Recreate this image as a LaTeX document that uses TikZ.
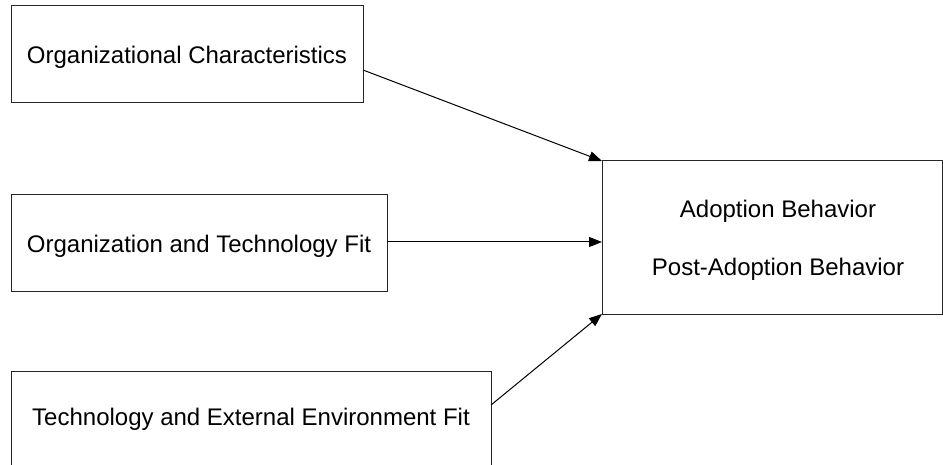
\documentclass[tikz,border=0pt]{standalone}
\usepackage{fontspec}
\setmainfont{Liberation Sans}
\usetikzlibrary{arrows.meta}
\begin{document}
\begin{tikzpicture}[x=1pt,y=-1pt,
  boxnode/.style={draw=black!85,line width=1pt,inner sep=0pt,outer sep=0pt,rectangle},
  lbl/.style={font=\fontsize{24}{28}\selectfont,anchor=base,inner sep=0pt},
  conn/.style={line width=1pt,-{Triangle[length=13pt,width=10pt]}}]
\clip (0,0) rectangle (943,465);
\fill[white] (0,0) rectangle (943,465);
\node[boxnode,minimum width=352pt,minimum height=97pt] (b1) at (187,54.5) {};
\node[boxnode,minimum width=376pt,minimum height=97pt] (b2) at (199,243.5) {};
\node[boxnode,minimum width=480pt,minimum height=110pt] (b3) at (251,426) {};
\node[boxnode,minimum width=340pt,minimum height=153pt] (b4) at (772,237.5) {};
\node[lbl] (t1) at (187,64) {Organizational Characteristics};
\node[lbl] (t2) at (199,253) {Organization and Technology Fit};
\node[lbl] (t3) at (251,425) {Technology and External Environment Fit};
\node[lbl] (t4) at (778,218) {Adoption Behavior};
\node[lbl] (t5) at (778,276) {Post-Adoption Behavior};
\coordinate (s1) at (b1.east |- 0,70);
\coordinate (s2) at (b2.east |- 0,242);
\coordinate (s3) at (b3.east |- 0,405);
\draw[conn] (s1) -- (b4.north west);
\draw[conn] (s2) -- (s2 -| b4.west);
\draw[conn] (s3) -- (b4.south west);
\end{tikzpicture}
\end{document}
